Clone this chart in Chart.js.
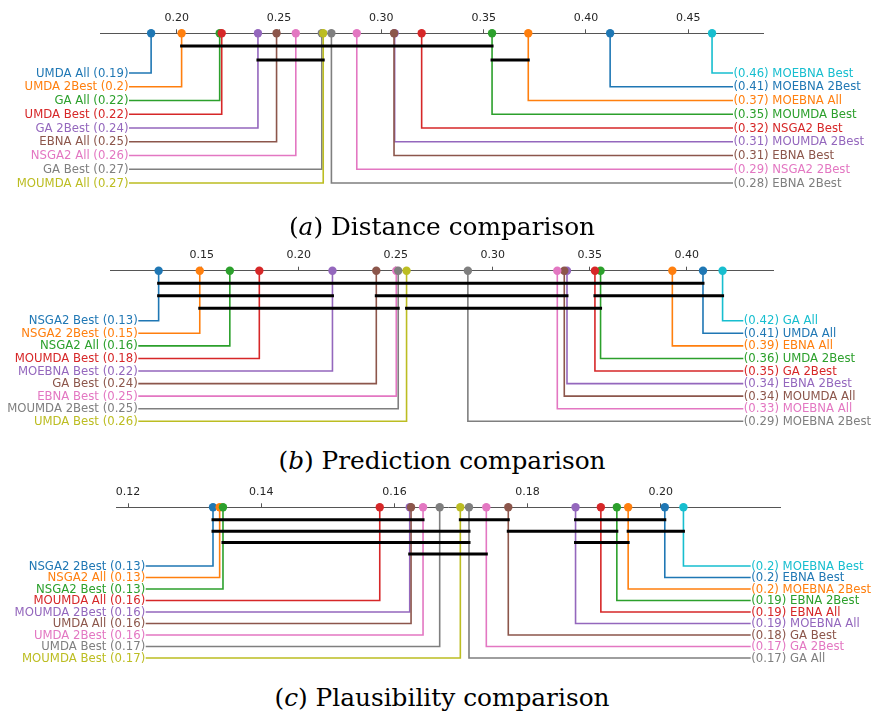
<!DOCTYPE html>
<html>
<head>
<meta charset="utf-8">
<script src="https://cdn.jsdelivr.net/npm/chart.js@4.4.0/dist/chart.umd.min.js"></script>
<style>
body { margin: 0; background: #fff; width: 871px; height: 715px; position: relative; overflow: hidden; }
canvas { position: absolute; left: 0; }
.title { position: absolute; left: 0; width: 884px; text-align: center; font-family: 'DejaVu Serif'; font-size: 24.8px; line-height: 24.8px; color: #000; white-space: nowrap; }
</style>
</head>
<body>
<canvas id="distChart" width="871" height="200" style="top:0px"></canvas>
<canvas id="predChart" width="871" height="200" style="top:235px"></canvas>
<canvas id="plausChart" width="871" height="200" style="top:475px"></canvas>
<div class="title" style="top:215px">(<i>a</i>) Distance comparison</div>
<div class="title" style="top:448.5px">(<i>b</i>) Prediction comparison</div>
<div class="title" style="top:685.5px">(<i>c</i>) Plausibility comparison</div>
<script>
// methods in ascending order of average score, one list per panel
const distNames = ['UMDA All', 'UMDA 2Best', 'GA All', 'UMDA Best', 'GA 2Best', 'EBNA All', 'NSGA2 All', 'GA Best', 'MOUMDA All',
    'EBNA 2Best', 'NSGA2 2Best', 'EBNA Best', 'MOUMDA 2Best', 'NSGA2 Best', 'MOUMDA Best', 'MOEBNA All', 'MOEBNA 2Best', 'MOEBNA Best'];
const distValues = [0.1875, 0.2024, 0.2210, 0.2220, 0.2397, 0.2488, 0.2582, 0.2709, 0.2716,
    0.2756, 0.2880, 0.3062, 0.3065, 0.3197, 0.3541, 0.3718, 0.4118, 0.4616];
const distCliques = [[1, 14], [4, 8], [14, 15]];
const distTicks = [0.20, 0.25, 0.30, 0.35, 0.40, 0.45];

const predNames = ['NSGA2 Best', 'NSGA2 2Best', 'NSGA2 All', 'MOUMDA Best', 'MOEBNA Best', 'GA Best', 'EBNA Best', 'MOUMDA 2Best', 'UMDA Best',
    'MOEBNA 2Best', 'MOEBNA All', 'MOUMDA All', 'EBNA 2Best', 'GA 2Best', 'UMDA 2Best', 'EBNA All', 'UMDA All', 'GA All'];
const predValues = [0.1278, 0.1490, 0.1645, 0.1797, 0.2174, 0.2400, 0.2503, 0.2513, 0.2556,
    0.2872, 0.3333, 0.3369, 0.3383, 0.3527, 0.3556, 0.3926, 0.4084, 0.4185];
const predCliques = [[0, 16], [0, 4], [5, 12], [13, 17], [1, 7], [8, 14]];
const predTicks = [0.15, 0.20, 0.25, 0.30, 0.35, 0.40];

const plausNames = ['NSGA2 2Best', 'NSGA2 All', 'NSGA2 Best', 'MOUMDA All', 'MOUMDA 2Best', 'UMDA All', 'UMDA 2Best', 'UMDA Best', 'MOUMDA Best',
    'GA All', 'GA 2Best', 'GA Best', 'MOEBNA All', 'EBNA All', 'EBNA 2Best', 'MOEBNA 2Best', 'EBNA Best', 'MOEBNA Best'];
const plausValues = [0.13276, 0.13376, 0.13426, 0.1578, 0.1623, 0.1625, 0.1643, 0.1668, 0.1699,
    0.1712, 0.1738, 0.1771, 0.1872, 0.1910, 0.1934, 0.1951, 0.2006, 0.2034];
const plausCliques = [[0, 6], [8, 11], [12, 16], [0, 9], [11, 14], [15, 17], [2, 9], [12, 15], [4, 10]];
const plausTicks = [0.12, 0.14, 0.16, 0.18, 0.20];

const tab10 = ['#1f77b4', '#ff7f0e', '#2ca02c', '#d62728', '#9467bd', '#8c564b', '#e377c2', '#7f7f7f', '#bcbd22', '#17becf'];

// page layout of each panel (pixels)
const panels = [
    {id: 'distChart', top: 0, names: distNames, values: distValues, cliques: distCliques, ticks: distTicks,
     min: 0.16252, max: 0.4865, left: 100, right: 763, axisY: 33.3,
     rowY: 73, rowStep: 13.75, cliqueY: 46, cliqueStep: 14, labelL: 129, labelR: 733},
    {id: 'predChart', top: 235, names: predNames, values: predValues, cliques: predCliques, ticks: predTicks,
     min: 0.10273, max: 0.44449, left: 110, right: 773, axisY: 270.7,
     rowY: 320.7, rowStep: 12.575, cliqueY: 283.3, cliqueStep: 12.5, labelL: 138.3, labelR: 743.3},
    {id: 'plausChart', top: 475, names: plausNames, values: plausValues, cliques: plausCliques, ticks: plausTicks,
     min: 0.1183, max: 0.2179, left: 116.7, right: 780, axisY: 507.3,
     rowY: 566, rowStep: 11.5, cliqueY: 519.7, cliqueStep: 11.45, labelL: 145.7, labelR: 750.7}
];

const fmt = v => String(Number(v.toFixed(2)));

// put each clique bar on the first row where it does not touch an earlier one
function cliqueRows(cliques) {
    const ends = [];
    return cliques.map(([a, b]) => {
        let r = ends.findIndex(e => a > e);
        if (r < 0) { r = ends.length; ends.push(b); } else ends[r] = b;
        return r;
    });
}

const labelPlugin = {
    id: 'cdLabels',
    afterDatasetsDraw(chart) {
        const ctx = chart.ctx;
        const xs = chart.scales.x, ys = chart.scales.y;
        ctx.save();
        ctx.font = '11.7px "DejaVu Sans"';
        ctx.textBaseline = 'middle';
        chart.data.datasets.forEach(ds => {
            if (!ds.labelText) return;
            const end = ds.data[2];
            const px = xs.getPixelForValue(end.x);
            const py = ys.getPixelForValue(end.y);
            ctx.fillStyle = ds.borderColor;
            ctx.textAlign = ds.onLeft ? 'right' : 'left';
            ctx.fillText(ds.labelText, ds.onLeft ? px - 0.5 : px + 0.5, py + 0.5);
        });
        ctx.restore();
    }
};

function makeChart(p) {
    const canvas = document.getElementById(p.id);
    const axisY = p.axisY - p.top;
    const areaH = canvas.height - axisY - 5;
    const toVal = px => p.min + (px - p.left) / (p.right - p.left) * (p.max - p.min);
    const n = p.names.length;
    const half = Math.ceil(n / 2);
    const datasets = [];

    p.names.forEach((name, i) => {
        const onLeft = i < half;
        const row = onLeft ? i : n - 1 - i;
        const k = onLeft ? i : half + row;
        const c = tab10[k % 10];
        const ry = p.rowY + row * p.rowStep - p.axisY;
        const edge = toVal(onLeft ? p.labelL : p.labelR);
        const v = p.values[i];
        datasets.push({
            data: [{x: v, y: 0}, {x: v, y: ry}, {x: edge, y: ry}],
            borderColor: c,
            backgroundColor: c,
            pointBackgroundColor: c,
            borderWidth: 1.6,
            pointRadius: [4.2, 0, 0],
            pointBorderWidth: 0,
            pointHoverRadius: 0,
            tension: 0,
            clip: false,
            order: 100 - k,
            onLeft: onLeft,
            labelText: onLeft ? `${name} (${fmt(v)})` : `(${fmt(v)}) ${name}`
        });
    });

    const rows = cliqueRows(p.cliques);
    p.cliques.forEach(([a, b], j) => {
        const cy = p.cliqueY + rows[j] * p.cliqueStep - p.axisY;
        datasets.push({
            data: [{x: p.values[a], y: cy}, {x: p.values[b], y: cy}],
            borderColor: '#000',
            borderWidth: 3,
            borderCapStyle: 'square',
            pointRadius: 0,
            pointHoverRadius: 0,
            clip: false,
            order: 0
        });
    });

    return new Chart(canvas, {
        type: 'line',
        data: {datasets},
        options: {
            responsive: false,
            animation: false,
            events: [],
            layout: {padding: {top: axisY - 30, left: p.left, right: canvas.width - p.right, bottom: canvas.height - axisY - areaH}},
            plugins: {legend: {display: false}, tooltip: {enabled: false}},
            scales: {
                x: {
                    type: 'linear', position: 'top', min: p.min, max: p.max,
                    afterFit: s => { s.height = 30; },
                    afterBuildTicks: s => { s.ticks = p.ticks.map(v => ({value: v})); },
                    grid: {drawOnChartArea: false, drawTicks: true, tickLength: 4, color: '#555', lineWidth: 1},
                    border: {display: true, color: '#555', width: 1},
                    ticks: {padding: 5, color: '#262626', font: {family: 'DejaVu Sans', size: 11},
                            maxRotation: 0, autoSkip: false, callback: v => v.toFixed(2)}
                },
                y: {type: 'linear', display: false, min: 0, max: areaH, reverse: true}
            }
        },
        plugins: [labelPlugin]
    });
}

panels.forEach(makeChart);
</script>
</body>
</html>
